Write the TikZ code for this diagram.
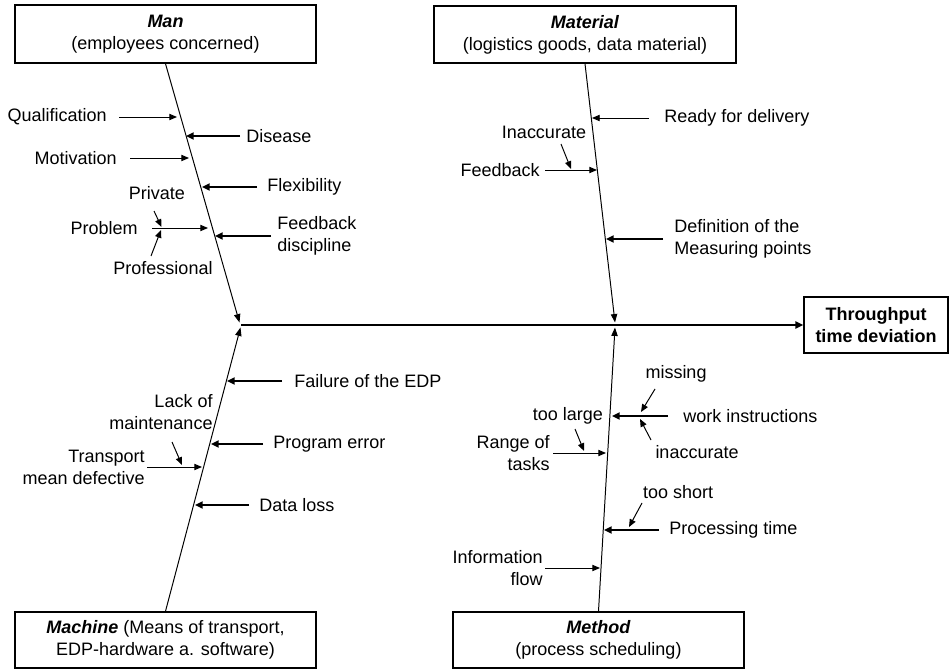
\documentclass[tikz,border=0pt]{standalone}
\usepackage{fontspec}
\setmainfont{Liberation Sans}
\usepackage{tikz}
\usetikzlibrary{arrows.meta, positioning}
\tikzstyle{effect} = [rectangle, draw=black, line width=1.1pt, align=center, inner sep=0pt]
\tikzstyle{txt} = [inner sep=0pt, align=left]
\tikzstyle{spine} = [line width=0.7pt, -{Triangle[length=6pt,width=4.5pt]}]
\tikzstyle{twig} = [line width=0.7pt, -{Triangle[length=5.5pt,width=4.5pt]}]
\tikzstyle{branch} = [line width=1.4pt, -{Triangle[length=5.5pt,width=5pt]}]
\tikzset{
  font={\fontsize{12.8pt}{15.6pt}\selectfont}}

\begin{document}
\begin{tikzpicture}[x=0.025cm, y=-0.025cm]
    \useasboundingbox (0,0) rectangle (951,669);

    \node (man) [effect, minimum width=7.525cm, minimum height=1.45cm] at (165.5,34) {\textbf{\textit{Man}}\\(employees concerned)};
    \node (material) [effect, minimum width=7.55cm, minimum height=1.425cm] at (585,34.5) {\textbf{\textit{Material}}\\(logistics goods, data material)};
    \node (machine) [effect, minimum width=7.525cm, minimum height=1.4cm] at (165.5,640) {\textbf{\textit{Machine}} (Means of transport,\\EDP-hardware a. software)};
    \node (method) [effect, minimum width=7.275cm, minimum height=1.4cm] at (598.5,640) {\textbf{\textit{Method}}\\(process scheduling)};
    \node (result) [effect, minimum width=3.6cm, minimum height=1.4cm] at (876,325) {\textbf{Throughput}\\\textbf{time deviation}};

    \coordinate (hub) at (241,325);
    \coordinate (manend) at (239.5,322.5);
    \coordinate (matend) at (615,322.5);
    \coordinate (macend) at (240.5,327.5);
    \coordinate (metend) at (615,327.5);

    \draw [spine] (man.south) -- (manend);
    \draw [spine] (material.south) -- (matend);
    \draw [spine] (machine.north) -- (macend);
    \draw [spine] (method.north) -- (metend);
    \draw [branch] (hub) -- (result);

    % man
    \coordinate (qual-s) at (119,117);  \coordinate (qual-t) at (177,117);
    \coordinate (dis-s) at (240,136);   \coordinate (dis-t) at (186,136);
    \coordinate (mot-s) at (130,158);   \coordinate (mot-t) at (189,158);
    \coordinate (flex-s) at (257,187);  \coordinate (flex-t) at (202,187);
    \coordinate (prob-s) at (152,228);  \coordinate (prob-t) at (208,228);
    \coordinate (priv-s) at (154,211);  \coordinate (priv-t) at (161.5,227);
    \coordinate (prof-s) at (151,256);  \coordinate (prof-t) at (161,230);
    \coordinate (fbd-s) at (271,236);   \coordinate (fbd-t) at (215,236);

    \node (qual) [txt, left=0.3cm of qual-s] {Qualification};
    \node (dis) [txt, right=0.15cm of dis-s] {Disease};
    \node (mot) [txt, left=0.325cm of mot-s] {Motivation};
    \node (flex) [txt, right=0.25cm of flex-s] {Flexibility};
    \node (prob) [txt, left=0.35cm of prob-s] {Problem};
    \node (priv) [txt, above=0.28cm of priv-s, xshift=0.075cm] {Private};
    \node (prof) [txt, below=0.125cm of prof-s, xshift=0.3cm] {Professional};
    \node (fbd) [txt, right=0.15cm of fbd-s] {Feedback\\discipline};

    \draw [twig] (qual-s) -- (qual-t);
    \draw [branch] (dis-s) -- (dis-t);
    \draw [twig] (mot-s) -- (mot-t);
    \draw [branch] (flex-s) -- (flex-t);
    \draw [twig] (prob-s) -- (prob-t);
    \draw [twig] (priv-s) -- (priv-t);
    \draw [twig] (prof-s) -- (prof-t);
    \draw [branch] (fbd-s) -- (fbd-t);

    % material
    \coordinate (rdy-s) at (649,118);   \coordinate (rdy-t) at (592,118);
    \coordinate (fbk-s) at (545,170);   \coordinate (fbk-t) at (597,170);
    \coordinate (inacc-s) at (561,144); \coordinate (inacc-t) at (571,169);
    \coordinate (meas-s) at (663,239);  \coordinate (meas-t) at (606,239);

    \node (rdy) [txt, right=0.375cm of rdy-s] {Ready for delivery};
    \node (fbk) [txt, left=0.125cm of fbk-s] {Feedback};
    \node (inacc) [txt, above=0.125cm of inacc-s, xshift=-0.425cm] {Inaccurate};
    \node (meas) [txt, right=0.275cm of meas-s] {Definition of the\\Measuring points};

    \draw [twig] (rdy-s) -- (rdy-t);
    \draw [twig] (fbk-s) -- (fbk-t);
    \draw [twig] (inacc-s) -- (inacc-t);
    \draw [branch] (meas-s) -- (meas-t);

    % machine
    \coordinate (edp-s) at (282,381);   \coordinate (edp-t) at (227,381);
    \coordinate (prg-s) at (263,444);   \coordinate (prg-t) at (211,444);
    \coordinate (trn-s) at (147,467);   \coordinate (trn-t) at (202,467);
    \coordinate (lack-s) at (172,442);  \coordinate (lack-t) at (182,465);
    \coordinate (loss-s) at (249,505);  \coordinate (loss-t) at (195,505);

    \node (edp) [txt, right=0.3cm of edp-s] {Failure of the EDP};
    \node (prg) [txt, right=0.25cm of prg-s] {Program error};
    \node (trn) [txt, align=right, left=0.05cm of trn-s] {Transport\\mean defective};
    \node (lack) [txt, align=right, above=0.3cm of lack-s, xshift=-0.275cm] {Lack of\\maintenance};
    \node (loss) [txt, right=0.25cm of loss-s] {Data loss};

    \draw [branch] (edp-s) -- (edp-t);
    \draw [branch] (prg-s) -- (prg-t);
    \draw [twig] (trn-s) -- (trn-t);
    \draw [twig] (lack-s) -- (lack-t);
    \draw [branch] (loss-s) -- (loss-t);

    % method
    \coordinate (wrk-s) at (668,416);   \coordinate (wrk-t) at (612,416);
    \coordinate (mis-s) at (655,389);   \coordinate (mis-t) at (641,412);
    \coordinate (ina-s) at (651,440);   \coordinate (ina-t) at (640,419);
    \coordinate (rng-s) at (553,453);   \coordinate (rng-t) at (606,453);
    \coordinate (lrg-s) at (575,429);   \coordinate (lrg-t) at (584,451);
    \coordinate (proc-s) at (659,530);  \coordinate (proc-t) at (604,530);
    \coordinate (shrt-s) at (642,503);  \coordinate (shrt-t) at (629,527);
    \coordinate (info-s) at (545,568);  \coordinate (info-t) at (600,568);

    \node (wrk) [txt, right=0.375cm of wrk-s] {work instructions};
    \node (mis) [txt, above=0.15cm of mis-s, xshift=0.525cm] {missing};
    \node (ina) [txt, below=0.14cm of ina-s, xshift=1.15cm] {inaccurate};
    \node (rng) [txt, align=right, left=0.075cm of rng-s] {Range of\\tasks};
    \node (lrg) [txt, above=0.12cm of lrg-s, xshift=-0.175cm] {too large};
    \node (proc) [txt, right=0.25cm of proc-s] {Processing time};
    \node (shrt) [txt, above=0.11cm of shrt-s, xshift=0.9cm] {too short};
    \node (info) [txt, align=right, left=0.05cm of info-s] {Information\\flow};

    \draw [branch] (wrk-s) -- (wrk-t);
    \draw [twig] (mis-s) -- (mis-t);
    \draw [twig] (ina-s) -- (ina-t);
    \draw [twig] (rng-s) -- (rng-t);
    \draw [twig] (lrg-s) -- (lrg-t);
    \draw [branch] (proc-s) -- (proc-t);
    \draw [twig] (shrt-s) -- (shrt-t);
    \draw [twig] (info-s) -- (info-t);
\end{tikzpicture}
\end{document}
